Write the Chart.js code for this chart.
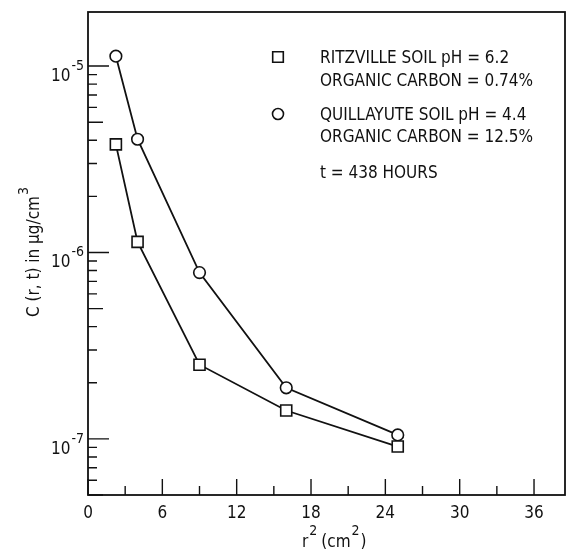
<!DOCTYPE html>
<html>
<head>
<meta charset="utf-8">
<script src="https://cdn.jsdelivr.net/npm/chart.js@4/dist/chart.umd.min.js"></script>
<style>
  html, body { margin: 0; padding: 0; background: #fff; }
</style>
</head>
<body>
<canvas id="chart" width="568" height="550"></canvas>
<script>
// r^2 positions (cm^2) and concentrations C(r,t) in ug/cm^3
const rSquared   = [2.25, 4, 9, 16, 25];
const ritzville  = [3.8e-6, 1.14e-6, 2.5e-7, 1.42e-7, 9.1e-8];
const quillayute = [1.13e-5, 4.05e-6, 7.8e-7, 1.88e-7, 1.05e-7];

const xMajorTicks = [0, 6, 12, 18, 24, 30, 36];
const xMinorTicks = [3, 9, 15, 21, 27, 33];
const yDecades    = [-7, -6, -5];
const yMinorMults = [2, 3, 4, 5, 6, 7, 8, 9];

const legendEntries = [
  { marker: 'rect',   lines: ['RITZVILLE SOIL pH = 6.2', 'ORGANIC CARBON = 0.74%'] },
  { marker: 'circle', lines: ['QUILLAYUTE SOIL pH = 4.4', 'ORGANIC CARBON = 12.5%'] }
];
const noteText = 't = 438 HOURS';

const FONT = "'Liberation Sans Narrow', 'DejaVu Sans Condensed', 'Roboto Condensed', sans-serif";
const INK = '#111';

function toPoints(xs, ys) { return xs.map((x, i) => ({ x: x, y: ys[i] })); }

// power-of-ten label with a raised exponent
function drawPow(ctx, xRight, yMid, exp) {
  ctx.save();
  ctx.fillStyle = INK;
  ctx.textBaseline = 'alphabetic';
  ctx.textAlign = 'left';
  const supFont = '14px ' + FONT;
  ctx.font = supFont;
  const wSup = ctx.measureText('-' + Math.abs(exp)).width;
  ctx.font = '17px ' + FONT;
  const wBase = ctx.measureText('10').width;
  const x0 = xRight - wSup - wBase;
  ctx.fillText('10', x0, yMid + 15);
  ctx.font = supFont;
  ctx.fillText('-' + Math.abs(exp), x0 + wBase + 1, yMid + 4);
  ctx.restore();
}

const axesPlugin = {
  id: 'axesPlugin',
  afterDraw(chart) {
    const ctx = chart.ctx;
    const a = chart.chartArea;
    const xs = chart.scales.x, ys = chart.scales.y;
    ctx.save();
    ctx.strokeStyle = INK;
    ctx.lineWidth = 1.8;
    ctx.strokeRect(a.left, a.top, a.right - a.left, a.bottom - a.top);

    // x ticks, pointing into the plot
    ctx.lineWidth = 1.4;
    ctx.beginPath();
    xMajorTicks.forEach(v => {
      const px = xs.getPixelForValue(v);
      ctx.moveTo(px, a.bottom); ctx.lineTo(px, a.bottom - 16);
    });
    xMinorTicks.forEach(v => {
      const px = xs.getPixelForValue(v);
      ctx.moveTo(px, a.bottom); ctx.lineTo(px, a.bottom - 9);
    });
    // y ticks
    yDecades.forEach(d => {
      const py = ys.getPixelForValue(Math.pow(10, d));
      ctx.moveTo(a.left, py); ctx.lineTo(a.left + 21, py);
    });
    [-8, -7, -6].forEach(d => {
      const base = Math.pow(10, d);
      yMinorMults.forEach(m => {
        const v = base * m;
        if (v < ys.min || v > ys.max) return;
        const py = ys.getPixelForValue(v);
        ctx.moveTo(a.left, py); ctx.lineTo(a.left + (m === 5 ? 15 : 9), py);
      });
    });
    ctx.stroke();

    // x tick labels
    ctx.fillStyle = INK;
    ctx.font = '17px ' + FONT;
    ctx.textAlign = 'center';
    ctx.textBaseline = 'alphabetic';
    xMajorTicks.forEach(v => {
      ctx.fillText(String(v), xs.getPixelForValue(v), a.bottom + 23);
    });

    // y tick labels
    yDecades.forEach(d => {
      drawPow(ctx, a.left - 5, ys.getPixelForValue(Math.pow(10, d)), d);
    });

    // x axis title: r^2 (cm^2)
    ctx.textAlign = 'left';
    ctx.font = '17px ' + FONT;
    let x = 302;
    const by = 547;
    ctx.fillText('r', x, by); x += ctx.measureText('r').width + 1;
    ctx.font = '14px ' + FONT;
    ctx.fillText('2', x, by - 12); x += ctx.measureText('2').width + 4;
    ctx.font = '17px ' + FONT;
    ctx.fillText('(cm', x, by); x += ctx.measureText('(cm').width + 1;
    ctx.font = '14px ' + FONT;
    ctx.fillText('2', x, by - 12); x += ctx.measureText('2').width + 1;
    ctx.font = '17px ' + FONT;
    ctx.fillText(')', x, by);

    // y axis title, rotated
    ctx.save();
    ctx.translate(39, 252);
    ctx.rotate(-Math.PI / 2);
    const main = 'C (r, t) in \u00b5g/cm';
    ctx.font = '14px ' + FONT;
    const w3 = ctx.measureText('3').width;
    ctx.font = '17px ' + FONT;
    const wm = ctx.measureText(main).width;
    const sx = -(wm + w3 + 1) / 2;
    ctx.fillText(main, sx, 0);
    ctx.font = '14px ' + FONT;
    ctx.fillText('3', sx + wm + 1, -11);
    ctx.restore();

    // legend block
    ctx.font = '17px ' + FONT;
    ctx.textAlign = 'left';
    const rows = [[63, 86], [120, 142]];
    legendEntries.forEach((e, i) => {
      const [b1, b2] = rows[i];
      ctx.fillStyle = INK;
      ctx.fillText(e.lines[0], 320, b1);
      ctx.fillText(e.lines[1], 320, b2);
      ctx.strokeStyle = INK;
      ctx.lineWidth = 1.6;
      ctx.fillStyle = '#fff';
      Chart.helpers.drawPoint(ctx, { pointStyle: e.marker, rotation: 0, borderWidth: 1.6,
        radius: e.marker === 'rect' ? 7.5 : 5.5 }, 278, b1 - 6);
      ctx.fillStyle = INK;
    });
    ctx.fillText(noteText, 320, 178);
    ctx.restore();
  }
};

new Chart(document.getElementById('chart'), {
  type: 'scatter',
  data: {
    datasets: [
      {
        label: 'Ritzville',
        data: toPoints(rSquared, ritzville),
        showLine: true,
        borderColor: INK,
        borderWidth: 1.8,
        pointStyle: 'rect',
        pointRadius: 7.8,
        pointBorderWidth: 1.6,
        pointBorderColor: INK,
        pointBackgroundColor: '#fff'
      },
      {
        label: 'Quillayute',
        data: toPoints(rSquared, quillayute),
        showLine: true,
        borderColor: INK,
        borderWidth: 1.8,
        pointStyle: 'circle',
        pointRadius: 5.8,
        pointBorderWidth: 1.6,
        pointBorderColor: INK,
        pointBackgroundColor: '#fff'
      }
    ]
  },
  options: {
    responsive: false,
    animation: false,
    layout: { autoPadding: false, padding: { left: 88, top: 12, right: 3, bottom: 55 } },
    plugins: { legend: { display: false }, tooltip: { enabled: false } },
    scales: {
      x: { type: 'linear', min: 0, max: 38.5, display: false },
      y: { type: 'logarithmic', min: 5e-8, max: 1.95e-5, display: false }
    }
  },
  plugins: [axesPlugin]
});
</script>
</body>
</html>
